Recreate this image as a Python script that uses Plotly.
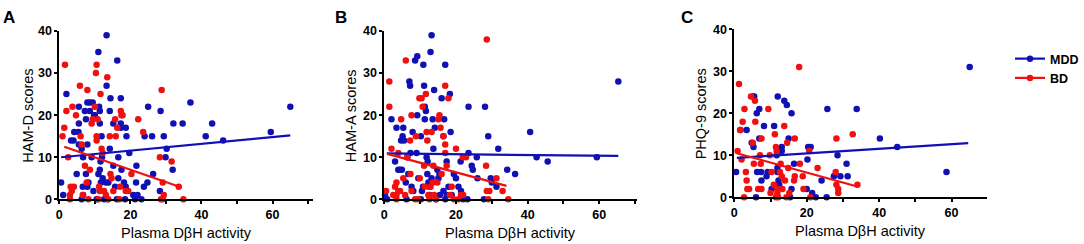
import plotly.graph_objects as go

# ---------------- data ----------------
# Panel A: HAM-D scores
a_mdd_x = [0.5,1.1,2,3.3,4,4.2,5.4,5.5,5.5,4.9,5.5,6.3,6.3,6.7,6.6,6.7,7.9,7.9,7.5,7.2,7.5,8.2,7.9,8.6,8.6,9.4,9.1,9.6,9.8,10,10.5,11,11.2,11.4,11.4,11,11.4,11.6,11.7,11.9,12,12.2,12.6,13.1,13.3,13.3,13.5,13.8,14.2,14.4,14.2,15.2,15.2,15.7,16.2,16.3,16.6,16.6,17.3,17.3,17.3,17.5,18.2,18.5,18.7,18.9,18.7,19.7,20.8,21.3,21.6,21.7,22,23.1,23.8,24,24.8,25,26.1,26.4,28.3,28.5,29.4,30.2,29.9,31.9,32.1,34.7,36.9,41.2,43,46.1,59.5,65]
a_mdd_y = [4,1,25,14,14,16,16,22,18,6,13,12,0,1,3,10,23,13,19,21,6,4,3,23,21,23,10,2,20,20,0,35,22,21,18,6,7,9,4,15,10,5,0,4,39,27,0,4,12,24,21,18,8,3,0,33,10,5,24,18,17,7,4,0,17,15,3,11,1,0,4,8,1,0,3,15,4,22,15,6,2,21,15,12,10,7,18,18,23,15,18,14,16,22]
a_bd_x = [0.9,1.4,1.6,2,2.5,3,3.2,3,3.7,3.5,4.1,4.7,5.8,6,6.3,6.6,7.2,7.7,7.9,8.2,8.6,9.1,9.4,10,10.3,10.5,10.5,10.5,10.8,11,11.2,11.4,11.6,11.9,12.2,12.6,13.1,13.5,13.8,14.2,14.4,14.7,15.2,15.7,15.9,16.3,16.9,17.1,17.3,17.5,17.8,18.7,19.4,20.3,22.2,23.6,28.3,28.8,29.1,29.1,29.4,31.6,33.6,34.9,28.6]
a_bd_y = [15,17,32,21,10,0,3,1,22,2,3,20,27,15,13,1,8,4,26,0,7,18,19,22,30,32,15,14,19,0,3,2,25,12,11,2,1,29,0,15,6,5,2,19,15,17,0,3,21,20,20,2,2,6,19,16,10,26,4,0,1,9,3,0,0]
a_fit_mdd_x = [0.5, 65]
a_fit_mdd_y = [10.0, 15.2]
a_fit_bd_x = [1.4, 34.4]
a_fit_bd_y = [12.5, 2.8]

# Panel B: HAM-A scores
b_mdd_x = [0.2,0.8,2,3,3.4,3.9,4.4,4.9,4.7,5.1,5.3,5.5,6,6.2,6.4,6.7,7,7.2,7.3,7.6,7.9,8.1,8.6,9.2,9.2,9,9.5,10.2,10.2,10.5,10.8,10.9,11.1,11.3,11.3,11.6,11.8,12,12.1,12.3,12.6,12.7,12.9,13.2,13.2,13.5,13.7,13.9,14.1,14.4,14.8,15.1,15.4,15.5,16,16.5,16.5,16.7,17,17,17.4,17.4,17.9,18.3,18.5,18.8,19.4,20,20.7,21.3,21.4,22,23.2,23.5,23.5,24.4,24.7,25.8,26,27.8,28.1,29,29.7,30,31.3,31.8,34.3,36.5,40.7,42.5,45.6,59.3,65.3]
b_mdd_y = [1,0,19,9,17,7,7,7,14,15,17,14,4,0,10,6,28,27,11,3,16,2,33,34,20,11,5,15,0,2,3,32,27,22,19,21,10,6,9,4,3,1,35,39,5,19,12,26,17,0,7,5,6,1,24,15,2,19,0,32,9,1,3,25,16,1,6,5,3,9,2,0,0,22,11,8,7,10,5,0,22,15,5,4,3,12,7,6,16,10,9,10,28]
b_bd_x = [0.5,1.4,1.4,2,2.5,3,3.4,3.4,3.4,3.9,3.9,4.4,4.7,5.3,5.8,6,6.4,7.2,7.3,7.6,7.6,8.6,8.8,9.5,9.8,9.9,10.4,10.7,11.1,11.3,11.6,11.8,12,12.3,12.6,12.9,13.2,13.5,13.7,13.9,14.4,14.8,15.1,15.4,15.7,16,16.5,17,17,17,17.4,17.9,18.3,18.8,19.4,20,20.7,21.4,21.9,22,22.8,28.6,28.4,28.6,29,29.3,31.3,33,34.6]
b_bd_y = [2,28,22,12,1,3,4,1,0,11,2,2,19,5,1,33,10,14,6,20,2,0,15,0,24,5,24,22,8,3,25,16,14,1,0,3,16,4,8,1,0,4,19,20,17,6,15,27,13,11,8,24,1,3,0,12,0,1,10,1,10,38,8,2,0,2,5,2,0]
b_fit_mdd_x = [0.7, 65.3]
b_fit_mdd_y = [10.9, 10.3]
b_fit_bd_x = [0.8, 34.1]
b_fit_bd_y = [10.8, 3.2]

# Panel C: PHQ-9 scores
c_mdd_x = [0.5,1.7,3.4,4.8,5.3,5.1,5.5,6,6.2,6.3,6.9,6.9,7.4,7.5,8.2,8.9,9.2,10.3,11,11.7,11.9,11.9,12,12.2,12.4,13.1,13.1,13.8,14.5,15,15.4,15.8,15.8,16.5,20,20.2,20.4,21.1,21.5,22.5,24.1,25.5,25.7,27.5,28.5,29.3,31,31.3,33.8,40.2,45,58.6,65]
c_mdd_y = [6,16,16,13,12,24,24,0,20,6,21,14,6,4,17,5,6,2,17,10,7,6,24,4,3,12,11,23,22,14,0,2,20,8,2,9,12,12,1,0,4,0,21,5,10,5,8,5,21,14,12,6,31]
c_bd_x = [0.9,1.3,1.6,2,2.3,2.7,2.8,3.2,3.4,3.6,4.1,4.6,5.1,5.4,5.7,5.8,6.6,7.1,7.3,7.5,7.5,9.4,9.8,10,10.3,10.9,11.2,11.5,11.5,11.7,11.9,11.9,12.1,12.6,12.8,13.1,13.3,13.8,14,14.4,14.6,14.9,15.2,16.5,16.7,16.7,17.9,18.1,18.9,19.1,20.7,21,23,28,28.2,28.2,28.7,28.7,32.7,34]
c_bd_y = [11,27,16,9,18,0,21,6,4,2,2,24,13,8,23,18,2,10,8,14,2,21,10,1,6,3,15,12,0,11,1,2,0,6,8,5,2,17,4,0,13,7,1,4,5,14,31,8,5,2,11,0,7,6,14,3,2,1,15,3]
c_fit_mdd_x = [0.7, 64.6]
c_fit_mdd_y = [9.4, 12.9]
c_fit_bd_x = [0.7, 34.2]
c_fit_bd_y = [10.5, 2.5]

y_titles = ["HAM-D scores", "HAM-A scores", "PHQ-9 scores"]
x_title = "Plasma DβH activity"
panel_letters = ["A", "B", "C"]
series_names = ["MDD", "BD"]
x_tickvals = [0, 20, 40, 60]
y_tickvals = [0, 10, 20, 30, 40]

# ---------------- styling ----------------
BLUE = "#1010B4"
RED = "#F01010"
FONT = "Liberation Sans, Arial, sans-serif"
W, H = 1084, 244

# pixel boxes of plot areas in screen pixels (left, right, top, bottom)
boxes = [(59.3, 312.7, 31.0, 199.3),
         (384.3, 637.3, 31.0, 199.3),
         (734.3, 986.7, 29.3, 197.3)]
x_range_end = [71.3, 70.6, 69.7]
ytitle_x = [28.5, 351, 701]
xtitle_y = [233, 233, 231]
letter_x = [9, 341, 687]

panels = [
    (a_mdd_x, a_mdd_y, a_bd_x, a_bd_y, a_fit_mdd_x, a_fit_mdd_y, a_fit_bd_x, a_fit_bd_y),
    (b_mdd_x, b_mdd_y, b_bd_x, b_bd_y, b_fit_mdd_x, b_fit_mdd_y, b_fit_bd_x, b_fit_bd_y),
    (c_mdd_x, c_mdd_y, c_bd_x, c_bd_y, c_fit_mdd_x, c_fit_mdd_y, c_fit_bd_x, c_fit_bd_y),
]


def px(xs):
    return xs / W


def py(ys):
    return (H - ys) / H


fig = go.Figure()
layout_axes = {}
annotations = []
for i, (p, box) in enumerate(zip(panels, boxes)):
    mx, my, bx, by, fmx, fmy, fbx, fby = p
    xa = "x" if i == 0 else f"x{i+1}"
    ya = "y" if i == 0 else f"y{i+1}"
    marker_kw = dict(size=6.5, line=dict(width=0))
    fig.add_trace(go.Scatter(x=mx, y=my, mode="markers", xaxis=xa, yaxis=ya,
                             marker=dict(color=BLUE, **marker_kw), cliponaxis=False,
                             showlegend=False, hoverinfo="x+y"))
    fig.add_trace(go.Scatter(x=bx, y=by, mode="markers", xaxis=xa, yaxis=ya,
                             marker=dict(color=RED, **marker_kw), cliponaxis=False,
                             showlegend=False, hoverinfo="x+y"))
    fig.add_trace(go.Scatter(x=fmx, y=fmy, mode="lines", xaxis=xa, yaxis=ya,
                             line=dict(color=BLUE, width=2.2), showlegend=False,
                             cliponaxis=False, hoverinfo="skip"))
    fig.add_trace(go.Scatter(x=fbx, y=fby, mode="lines", xaxis=xa, yaxis=ya,
                             line=dict(color=RED, width=2.2), showlegend=False,
                             cliponaxis=False, hoverinfo="skip"))
    l, r, t, b = box
    xkey = "xaxis" if i == 0 else f"xaxis{i+1}"
    ykey = "yaxis" if i == 0 else f"yaxis{i+1}"
    layout_axes[xkey] = dict(
        domain=[px(l), px(r)], anchor=ya, range=[0, x_range_end[i]], automargin=False,
        tickvals=x_tickvals, ticktext=[f"<b>{v}</b>" for v in x_tickvals],
        ticks="outside", ticklen=3, tickwidth=1.5, tickcolor="black",
        minor=dict(dtick=10, tick0=0, ticks="outside", ticklen=3, tickwidth=1.5, tickcolor="black"),
        showline=True, linecolor="black", linewidth=1.8, showgrid=False, zeroline=False,
        tickfont=dict(family=FONT, size=12.5, color="black"),
    )
    layout_axes[ykey] = dict(
        domain=[py(b), py(t)], anchor=xa, range=[0, 40], automargin=False,
        tickvals=y_tickvals, ticktext=[f"<b>{v}</b>" for v in y_tickvals],
        ticks="outside", ticklen=3, tickwidth=1.5, tickcolor="black",
        showline=True, linecolor="black", linewidth=1.8, showgrid=False, zeroline=False,
        tickfont=dict(family=FONT, size=12.5, color="black"),
    )
    # axis titles
    annotations.append(dict(text=x_title, x=px((l + r) / 2), y=py(xtitle_y[i]),
                            xref="paper", yref="paper", showarrow=False,
                            xanchor="center", yanchor="middle",
                            font=dict(family=FONT, size=14.5, color="black")))
    annotations.append(dict(text=y_titles[i], x=px(ytitle_x[i]), y=py((t + b) / 2 + 1),
                            xref="paper", yref="paper", showarrow=False, textangle=-90,
                            xanchor="center", yanchor="middle",
                            font=dict(family=FONT, size=14.5, color="black")))
    annotations.append(dict(text=f"<b>{panel_letters[i]}</b>", x=px(letter_x[i]), y=py(17),
                            xref="paper", yref="paper", showarrow=False,
                            xanchor="center", yanchor="middle",
                            font=dict(family=FONT, size=17, color="black")))

# legend entries
for name, col in zip(series_names, [BLUE, RED]):
    fig.add_trace(go.Scatter(x=[None], y=[None], mode="lines+markers", name=name,
                             line=dict(color=col, width=2.2),
                             marker=dict(color=col, size=6.5)))

fig.update_layout(
    width=W, height=H, margin=dict(l=0, r=0, t=0, b=0, autoexpand=False),
    paper_bgcolor="white", plot_bgcolor="white",
    showlegend=True,
    legend=dict(x=1.0, y=py(44), xanchor="right", yanchor="top",
                font=dict(family=FONT, size=12.5, color="black", weight="bold"),
                itemwidth=30, tracegroupgap=2, bgcolor="rgba(0,0,0,0)"),
    annotations=annotations,
    **layout_axes,
)

fig.write_html("out.html", config={"displayModeBar": False},
               post_script="document.body.style.margin='0';document.body.style.padding='0';")
